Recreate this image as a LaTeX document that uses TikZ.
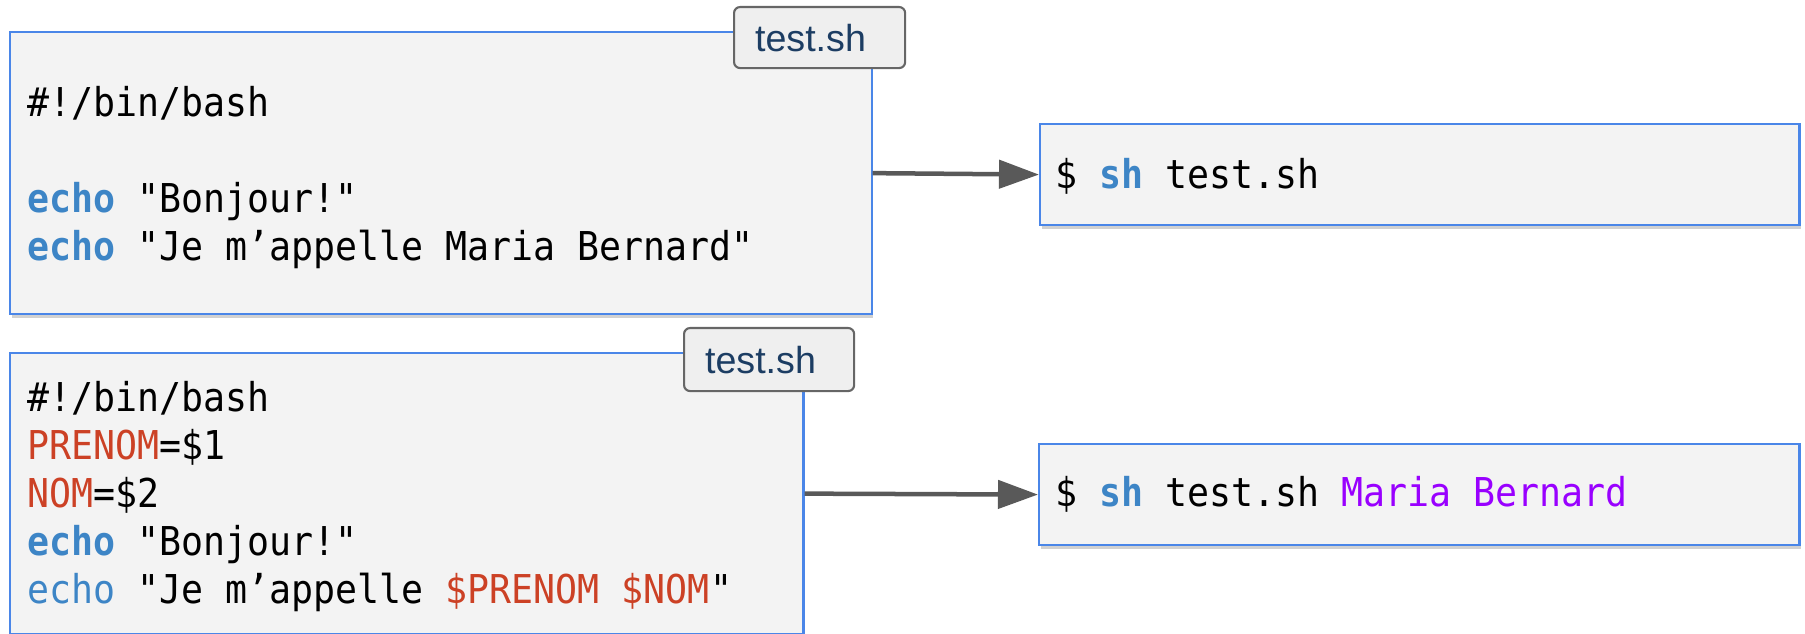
\documentclass[tikz,border=0pt]{standalone}
\usepackage{fontspec}
\setmainfont{Liberation Sans}
\newfontfamily\codefont{DejaVu Sans Mono}[FakeStretch=0.92]
\usepackage{tikz}
\usetikzlibrary{arrows.meta, positioning, shadows}

\definecolor{boxblue}{HTML}{4A86E8}
\definecolor{boxfill}{HTML}{F3F3F3}
\definecolor{tabfill}{HTML}{EFEFEF}
\definecolor{tabdraw}{HTML}{666666}
\definecolor{tabtext}{HTML}{1C3D63}
\definecolor{kwblue}{HTML}{3D85C6}
\definecolor{varred}{HTML}{CC4125}
\definecolor{argpurple}{HTML}{9900FF}
\definecolor{arrowgray}{HTML}{595959}

\newcommand{\shkw}[1]{\textcolor{kwblue}{\bfseries #1}}
\newcommand{\shvar}[1]{\textcolor{varred}{#1}}
\newcommand{\sharg}[1]{\textcolor{argpurple}{#1}}

\begin{document}
\frenchspacing
\begin{tikzpicture}[x=0.01cm, y=-0.01cm,
    codebox/.style={draw=boxblue, line width=0.6pt, fill=boxfill, rectangle, anchor=north west, inner sep=0pt,
        drop shadow={shadow xshift=0.5pt, shadow yshift=-1.2pt, opacity=0.3, fill=black!60}},
    onglet/.style={draw=tabdraw, line width=0.6pt, fill=tabfill, rounded corners=0.06cm, anchor=north west,
        inner xsep=0.21cm, inner ysep=0pt, align=left, text=tabtext,
        font=\fontsize{10.7pt}{12pt}\selectfont},
    codeline/.style={anchor=base west, inner sep=0pt, font=\fontsize{11.3pt}{13.5pt}\codefont},
    fleche/.style={draw=arrowgray, line width=0.045cm, -{Triangle[length=0.4cm, width=0.28cm]}}]
    \useasboundingbox (0,0) rectangle (1805,634);
    % 脚本 1
    \node[codebox, minimum width=8.61cm, minimum height=2.82cm] (box1) at (9,31) {};
    \node[onglet, text width=1.29cm, minimum height=0.61cm] (tab1) at (733,6) {test.sh};
    \foreach \ligne [count=\i] in {{\#!/bin/bash}, {}, {\shkw{echo} "Bonjour!"}, {\shkw{echo} "Je m’appelle Maria Bernard"}} {
        \node[codeline] (ligneA\i) at (27, 69+48*\i) {\ligne};
    }
    % 脚本 2
    \node[codebox, minimum width=7.93cm, minimum height=2.81cm] (box2) at (9,352) {};
    \node[onglet, text width=1.28cm, minimum height=0.63cm] (tab2) at (683,327) {test.sh};
    \foreach \ligne [count=\i] in {{\#!/bin/bash}, {\shvar{PRENOM}=\$1}, {\shvar{NOM}=\$2}, {\shkw{echo} "Bonjour!"}, {\textcolor{kwblue}{echo} "Je m’appelle \shvar{\$PRENOM \$NOM}"}} {
        \node[codeline] (ligneB\i) at (27, 364+48*\i) {\ligne};
    }
    % 命令
    \node[codebox, minimum width=7.59cm, minimum height=1.01cm] (res1) at (1039,123) {};
    \node[codeline] (cmd1) at (1055,189) {\$ \shkw{sh} test.sh};
    \node[codebox, minimum width=7.60cm, minimum height=1.01cm] (res2) at (1038,443) {};
    \node[codeline] (cmd2) at (1055,507) {\$ \shkw{sh} test.sh \sharg{Maria Bernard}};
    % 箭头
    \draw[fleche] (box1.east) -- (res1.west);
    \draw[fleche] (box2.east) -- (res2.west);
\end{tikzpicture}
\end{document}
